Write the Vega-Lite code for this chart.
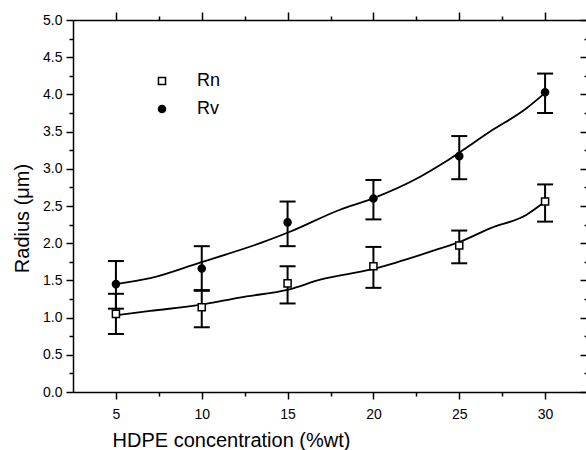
{
  "$schema": "https://vega.github.io/schema/vega-lite/v6.json",
  "width": 515,
  "height": 372,
  "autosize": {"type": "none"},
  "padding": {"left": 73, "top": 20, "right": 0, "bottom": 58},
  "background": "white",
  "config": {
    "view": {"stroke": null},
    "font": "Liberation Sans",
    "axis": {
      "grid": false,
      "domainColor": "black",
      "domainWidth": 1.5,
      "tickColor": "black",
      "tickWidth": 1.5,
      "labelColor": "black",
      "titleColor": "black",
      "labelFont": "Liberation Sans",
      "titleFont": "Liberation Sans",
      "labelFontSize": 14,
      "titleFontSize": 20,
      "titleFontWeight": "normal",
      "labelOverlap": false,
      "labelFlush": false
    }
  },
  "datasets": {
    "pts": [
      {"conc": 5, "series": "Rn", "r": 1.05, "lo": 0.78, "hi": 1.32},
      {"conc": 10, "series": "Rn", "r": 1.14, "lo": 0.87, "hi": 1.37},
      {"conc": 15, "series": "Rn", "r": 1.46, "lo": 1.19, "hi": 1.69},
      {"conc": 20, "series": "Rn", "r": 1.69, "lo": 1.40, "hi": 1.95},
      {"conc": 25, "series": "Rn", "r": 1.97, "lo": 1.73, "hi": 2.17},
      {"conc": 30, "series": "Rn", "r": 2.56, "lo": 2.29, "hi": 2.79},
      {"conc": 5, "series": "Rv", "r": 1.45, "lo": 1.12, "hi": 1.76},
      {"conc": 10, "series": "Rv", "r": 1.66, "lo": 1.36, "hi": 1.96},
      {"conc": 15, "series": "Rv", "r": 2.28, "lo": 1.96, "hi": 2.56},
      {"conc": 20, "series": "Rv", "r": 2.60, "lo": 2.32, "hi": 2.85},
      {"conc": 25, "series": "Rv", "r": 3.17, "lo": 2.86, "hi": 3.44},
      {"conc": 30, "series": "Rv", "r": 4.03, "lo": 3.75, "hi": 4.28}
    ],
    "fit": [
      {"series": "Rn", "conc": 5, "r": 1.03},
      {"series": "Rn", "conc": 7, "r": 1.09},
      {"series": "Rn", "conc": 9.9, "r": 1.17},
      {"series": "Rn", "conc": 12.2, "r": 1.27},
      {"series": "Rn", "conc": 15.1, "r": 1.38},
      {"series": "Rn", "conc": 16.9, "r": 1.51},
      {"series": "Rn", "conc": 19.94, "r": 1.65},
      {"series": "Rn", "conc": 22.7, "r": 1.84},
      {"series": "Rn", "conc": 23.9, "r": 1.93},
      {"series": "Rn", "conc": 24.95, "r": 2.01},
      {"series": "Rn", "conc": 26.8, "r": 2.20},
      {"series": "Rn", "conc": 28.9, "r": 2.38},
      {"series": "Rn", "conc": 30, "r": 2.56},
      {"series": "Rv", "conc": 5, "r": 1.45},
      {"series": "Rv", "conc": 7, "r": 1.53},
      {"series": "Rv", "conc": 9.9, "r": 1.74},
      {"series": "Rv", "conc": 13.4, "r": 2.00},
      {"series": "Rv", "conc": 15.1, "r": 2.15},
      {"series": "Rv", "conc": 18.05, "r": 2.45},
      {"series": "Rv", "conc": 19.94, "r": 2.60},
      {"series": "Rv", "conc": 22.7, "r": 2.89},
      {"series": "Rv", "conc": 24.1, "r": 3.08},
      {"series": "Rv", "conc": 24.95, "r": 3.21},
      {"series": "Rv", "conc": 26.8, "r": 3.50},
      {"series": "Rv", "conc": 28.9, "r": 3.81},
      {"series": "Rv", "conc": 30, "r": 4.02}
    ]
  },
  "layer": [
    {
      "data": {"name": "fit"},
      "mark": {"type": "line", "color": "black", "strokeWidth": 1.8, "interpolate": "monotone"},
      "encoding": {
        "x": {
          "field": "conc", "type": "quantitative",
          "scale": {"domain": [2.5, 32.5], "nice": false, "zero": false},
          "axis": {
            "orient": "bottom",
            "values": [5, 7.5, 10, 12.5, 15, 17.5, 20, 22.5, 25, 27.5, 30],
            "labelExpr": "datum.value % 5 == 0 ? datum.label : ''",
            "tickSize": {"condition": {"test": "datum.value % 5 != 0", "value": 4}, "value": 7},
            "labelPadding": 8,
            "title": "HDPE concentration (%wt)",
            "titleX": 158,
            "titlePadding": 9
          }
        },
        "y": {
          "field": "r", "type": "quantitative",
          "scale": {"domain": [0, 5], "nice": false, "zero": true},
          "axis": {
            "orient": "left",
            "values": [0, 0.25, 0.5, 0.75, 1, 1.25, 1.5, 1.75, 2, 2.25, 2.5, 2.75, 3, 3.25, 3.5, 3.75, 4, 4.25, 4.5, 4.75, 5],
            "labelExpr": "(datum.value * 2) % 1 == 0 ? format(datum.value, '.1f') : ''",
            "tickSize": {"condition": {"test": "(datum.value * 2) % 1 != 0", "value": 4}, "value": 7},
            "labelPadding": 4,
            "title": "Radius (μm)",
            "titleY": 198,
            "titlePadding": 10
          }
        },
        "detail": {"field": "series"}
      }
    },
    {
      "data": {"name": "pts"},
      "mark": {"type": "rule", "color": "black", "strokeWidth": 2},
      "encoding": {
        "x": {"field": "conc", "type": "quantitative", "axis": null},
        "y": {"field": "lo", "type": "quantitative", "axis": null},
        "y2": {"field": "hi"}
      }
    },
    {
      "data": {"name": "pts"},
      "mark": {"type": "tick", "orient": "horizontal", "color": "black", "size": 16, "thickness": 2, "opacity": 1},
      "encoding": {
        "x": {"field": "conc", "type": "quantitative", "axis": null},
        "y": {"field": "lo", "type": "quantitative", "axis": null}
      }
    },
    {
      "data": {"name": "pts"},
      "mark": {"type": "tick", "orient": "horizontal", "color": "black", "size": 16, "thickness": 2, "opacity": 1},
      "encoding": {
        "x": {"field": "conc", "type": "quantitative", "axis": null},
        "y": {"field": "hi", "type": "quantitative", "axis": null}
      }
    },
    {
      "data": {"name": "pts"},
      "mark": {"type": "point", "filled": true, "opacity": 1},
      "encoding": {
        "x": {"field": "conc", "type": "quantitative", "axis": null},
        "y": {"field": "r", "type": "quantitative", "axis": null},
        "shape": {
          "field": "series", "type": "nominal",
          "scale": {"domain": ["Rn", "Rv"], "range": ["square", "circle"]},
          "legend": {"orient": "none", "legendX": 80, "legendY": 52, "title": null, "labelFontSize": 18, "labelFont": "Liberation Sans", "labelColor": "black", "labelOffset": 26, "rowPadding": 10, "symbolSize": 50}
        },
        "fill": {
          "field": "series", "type": "nominal",
          "scale": {"domain": ["Rn", "Rv"], "range": ["white", "black"]},
          "legend": {"orient": "none", "legendX": 80, "legendY": 52, "title": null, "labelFontSize": 18, "labelFont": "Liberation Sans", "labelColor": "black", "labelOffset": 26, "rowPadding": 10, "symbolSize": 50}
        },
        "stroke": {"value": "black"},
        "strokeWidth": {"value": 1.5},
        "size": {"value": 50}
      }
    },
    {
      "data": {"name": "pts"},
      "mark": {"type": "point", "opacity": 0},
      "encoding": {
        "x": {
          "field": "conc", "type": "quantitative",
          "axis": {
            "orient": "top",
            "values": [5, 7.5, 10, 12.5, 15, 17.5, 20, 22.5, 25, 27.5, 30],
            "labels": false,
            "title": null,
            "tickSize": {"condition": {"test": "datum.value % 5 != 0", "value": 4}, "value": 8}
          }
        },
        "y": {
          "field": "r", "type": "quantitative",
          "axis": {
            "orient": "right",
            "values": [0, 0.25, 0.5, 0.75, 1, 1.25, 1.5, 1.75, 2, 2.25, 2.5, 2.75, 3, 3.25, 3.5, 3.75, 4, 4.25, 4.5, 4.75, 5],
            "labels": false,
            "title": null,
            "tickSize": {"condition": {"test": "(datum.value * 2) % 1 != 0", "value": -4}, "value": -8}
          }
        }
      }
    }
  ],
  "resolve": {"axis": {"x": "independent", "y": "independent"}}
}
